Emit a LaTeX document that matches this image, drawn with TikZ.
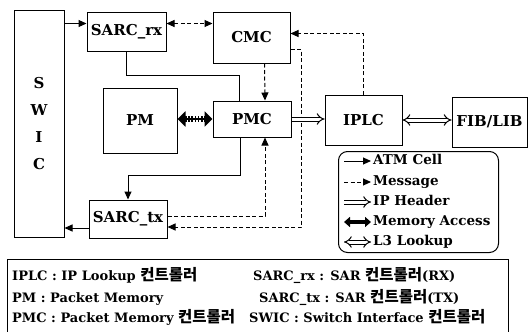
\documentclass[tikz,border=0pt]{standalone}
\usepackage{fontspec}
\setmainfont{DejaVu Serif}
\newfontfamily\kofont{Noto Sans CJK KR}
\usetikzlibrary{arrows.meta,positioning}
\newcommand{\ctrlko}{{\kofont\fontsize{15.5}{16}\selectfont 컨트롤러}}

\begin{document}
\begin{tikzpicture}[x=1pt,y=-1pt,
	>={Triangle[length=8pt,width=7pt]},
	blk/.style={draw, line width=1pt, inner sep=0pt, font=\fontsize{15}{18}\selectfont\bfseries},
	cell/.style={line width=1pt},
	msg/.style={line width=1pt, dash pattern=on 4pt off 2.5pt},
	iph/.style={line width=1pt, double, double distance=3pt, -{Implies}},
	lkp/.style={line width=1pt, double, double distance=3pt, {Implies}-{Implies}},
	mem/.style={line width=6pt, {Triangle[length=8pt,width=15pt]}-{Triangle[length=8pt,width=15pt]}},
	memleg/.style={line width=4pt, {Triangle[length=6pt,width=10pt]}-{Triangle[length=6pt,width=10pt]}},
	memdot/.style={white, line width=1.6pt, dash pattern=on 1.6pt off 1.6pt},
	legtxt/.style={anchor=west, inner sep=0pt, text height=10pt, text depth=3pt, font=\fontsize{13.5}{15}\selectfont\bfseries},
	deftxt/.style={anchor=base west, inner sep=0pt, font=\fontsize{13}{16}\selectfont\bfseries}]
	\useasboundingbox (0,0) rectangle (528,332);
	% blocks
	\node[blk, minimum width=50pt, minimum height=227pt, align=center, font=\fontsize{15}{27}\selectfont\bfseries] (SWIC) at (39,123.5) {S\\W\\I\\C};
	\node[blk, minimum width=79pt, minimum height=39pt] (SARCrx) at (126.5,31.5) {SARC\_rx};
	\node[blk, minimum width=77pt, minimum height=51pt] (CMC) at (251.5,37.5) {CMC};
	\node[blk, minimum width=74pt, minimum height=65pt] (PM) at (140,120.5) {PM};
	\node[blk, minimum width=78pt, minimum height=36pt] (PMC) at (252,119) {PMC};
	\node[blk, minimum width=78pt, minimum height=38pt] (SARCtx) at (128,219) {SARC\_tx};
	\node[blk, minimum width=77pt, minimum height=50pt] (IPLC) at (363.5,120) {IPLC};
	\node[blk, minimum width=75pt, minimum height=50pt] (FIBLIB) at (489.5,122) {FIB/LIB};
	% connectors
	\coordinate (rxin) at ([yshift=8pt]SARCrx.west);
	\coordinate (rxout) at ([yshift=8pt]SARCrx.east);
	\coordinate (txout) at ([yshift=-9pt]SARCtx.west);
	\coordinate (pmr) at (PMC.west -| PM.east);
	\draw[cell, ->] (SWIC.east |- rxin) -- (rxin);
	\draw[msg, <->] (rxout) -- (CMC.west |- rxout);
	\draw[cell] (SARCrx.south) -- ++(0,24) -| ([xshift=-13pt]PMC.north);
	\draw[msg, ->] ([xshift=13pt]CMC.south) -- ([xshift=13pt]PMC.north);
	\draw[cell, ->] ([xshift=-12pt]PMC.south) -- ++(0,38) -| (SARCtx.north);
	\draw[msg, ->] ([yshift=3pt]SARCtx.east) -| ([xshift=13pt]PMC.south);
	\draw[msg, ->] ([yshift=-12pt]CMC.east) -- ++(11,0) |- ([yshift=-8pt]SARCtx.east);
	\draw[cell, ->] (txout) -- (SWIC.east |- txout);
	\draw[msg, ->] (IPLC.north) |- ([yshift=4pt]CMC.east);
	\draw[iph] (PMC.east) -- (PMC.east -| IPLC.west);
	\draw[lkp] (IPLC.east) -- (IPLC.east -| FIBLIB.west);
	\draw[mem] (pmr) -- (PMC.west);
	\draw[memdot] ([shift={(9pt,2pt)}]pmr) -- ([shift={(-9pt,2pt)}]PMC.west);
	\draw[memdot] ([shift={(9pt,-2pt)}]pmr) -- ([shift={(-9pt,-2pt)}]PMC.west);
	% legend
	\node[draw, line width=1pt, rounded corners=9pt, minimum width=160pt, minimum height=101pt, anchor=north west] (legend) at (338,151) {};
	\node[legtxt] (lcell) at (373,161) {ATM Cell};
	\node[legtxt] (lmsg) at (373,182) {Message};
	\node[legtxt] (liph) at (373,202) {IP Header};
	\node[legtxt] (lmem) at (373,222) {Memory Access};
	\node[legtxt] (llkp) at (373,242) {L3 Lookup};
	\draw[cell, ->] ([xshift=-29pt]lcell.west) -- ([xshift=-2pt]lcell.west);
	\draw[msg, ->] ([xshift=-29pt]lmsg.west) -- ([xshift=-2pt]lmsg.west);
	\draw[iph] ([xshift=-29pt]liph.west) -- ([xshift=-2pt]liph.west);
	\draw[memleg] ([xshift=-29pt]lmem.west) -- ([xshift=-2pt]lmem.west);
	\draw[lkp] ([xshift=-29pt]llkp.west) -- ([xshift=-2pt]llkp.west);
	% definitions
	\node[draw, line width=1pt, minimum width=501pt, minimum height=90pt, anchor=north west] (defs) at (7,259) {};
	\node[deftxt] (dIPLC) at (12,280) {IPLC : IP Lookup \ctrlko};
	\node[deftxt] (dPM) at (12,302) {PM : Packet Memory};
	\node[deftxt] (dPMC) at (12,322) {PMC : Packet Memory \ctrlko};
	\node[deftxt] (dSARCrx) at (253,280) {SARC\_rx : SAR \ctrlko(RX)};
	\node[deftxt] (dSARCtx) at (259,302) {SARC\_tx : SAR \ctrlko(TX)};
	\node[deftxt] (dSWIC) at (249,322) {SWIC : Switch Interface \ctrlko};
\end{tikzpicture}
\end{document}
